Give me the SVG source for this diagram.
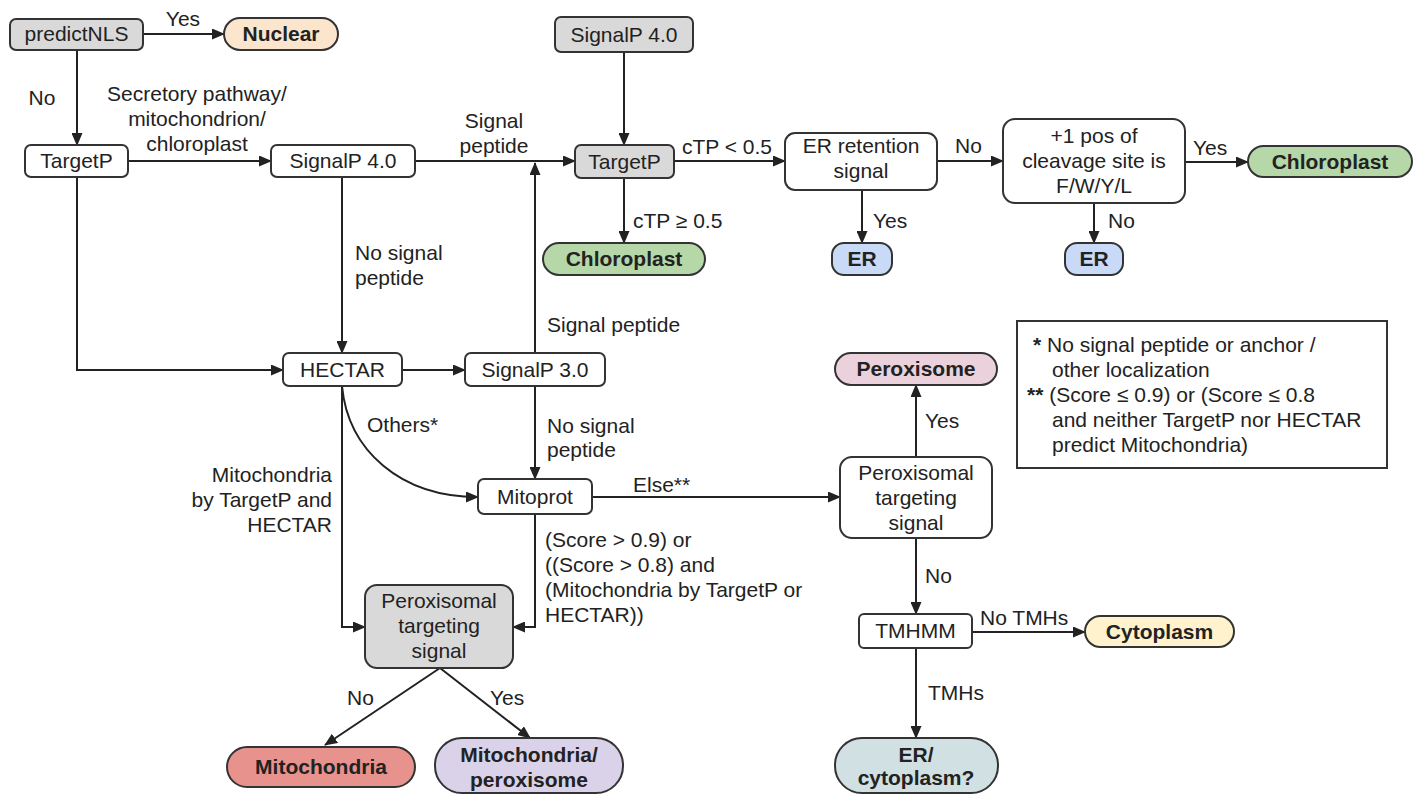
<svg xmlns="http://www.w3.org/2000/svg" width="1418" height="795" viewBox="0 0 1418 795">
<style>
text{font-family:"Liberation Sans",Arial,sans-serif;font-size:21px;fill:#222}
.c{text-anchor:middle}
.r{text-anchor:end}
.b{font-weight:bold}
.n{fill:#fff;stroke:#333;stroke-width:2}
.g{fill:#d9d9d9;stroke:#333;stroke-width:2}
.e{stroke:#222;stroke-width:2;fill:none;marker-end:url(#ah)}
.l{stroke:#222;stroke-width:2;fill:none}
</style>
<defs>
<marker id="ah" markerWidth="13" markerHeight="11" refX="12" refY="5.5" orient="auto" markerUnits="userSpaceOnUse"><path d="M0,0 L13,5.5 L0,11 z" fill="#222"/></marker>
</defs>
<rect width="1418" height="795" fill="#fff"/>
<g id="connectors">
<path class="e" d="M143,34 H224"/>
<path class="e" d="M77,50 V145"/>
<path class="e" d="M128,161 H271"/>
<path class="e" d="M415,161 H575"/>
<path class="e" d="M624,52 V145"/>
<path class="e" d="M535,353 V163"/>
<path class="e" d="M674,161 H785"/>
<path class="e" d="M624,178 V243"/>
<path class="e" d="M862,190 V243"/>
<path class="e" d="M937,161 H1003"/>
<path class="e" d="M1185,162 H1248"/>
<path class="e" d="M1094,203 V243"/>
<path class="e" d="M77,177 V370 H283"/>
<path class="e" d="M342,177 V353"/>
<path class="e" d="M402,370 H465"/>
<path class="e" d="M535,386 V479"/>
<path class="e" d="M342,386 C348,450 400,497 478,497"/>
<path class="e" d="M342,386 V627 H365"/>
<path class="e" d="M535,514 V627 H513"/>
<path class="e" d="M592,497 H840"/>
<path class="e" d="M916,457 V385"/>
<path class="e" d="M916,538 V614"/>
<path class="e" d="M972,632 H1085"/>
<path class="e" d="M916,648 V738"/>
<path class="e" d="M440,668 L325,745"/>
<path class="e" d="M440,668 L530,738"/>
</g>
<g id="labels">
<text x="183" y="26" class="c">Yes</text>
<text x="42" y="105" class="c">No</text>
<text x="197" y="101" class="c">Secretory pathway/</text>
<text x="197" y="126" class="c">mitochondrion/</text>
<text x="197" y="151" class="c">chloroplast</text>
<text x="494" y="128" class="c">Signal</text>
<text x="494" y="153" class="c">peptide</text>
<text x="727" y="154" class="c">cTP &lt; 0.5</text>
<text x="633" y="228">cTP ≥ 0.5</text>
<text x="873" y="228">Yes</text>
<text x="955" y="153">No</text>
<text x="1193" y="155">Yes</text>
<text x="1108" y="228">No</text>
<text x="355" y="260">No signal</text>
<text x="355" y="285">peptide</text>
<text x="547" y="332">Signal peptide</text>
<text x="547" y="433">No signal</text>
<text x="547" y="457">peptide</text>
<text x="367" y="432">Others*</text>
<text x="633" y="492">Else**</text>
<text x="332" y="482" class="r">Mitochondria</text>
<text x="332" y="507" class="r">by TargetP and</text>
<text x="332" y="532" class="r">HECTAR</text>
<text x="545" y="547">(Score &gt; 0.9) or</text>
<text x="545" y="572">((Score &gt; 0.8) and</text>
<text x="545" y="597">(Mitochondria by TargetP or</text>
<text x="545" y="622">HECTAR))</text>
<text x="347" y="705">No</text>
<text x="490" y="705">Yes</text>
<text x="925" y="428">Yes</text>
<text x="925" y="583">No</text>
<text x="980" y="625">No TMHs</text>
<text x="928" y="700">TMHs</text>
</g>
<g id="predictNLS"><rect class="g" x="10" y="19" width="133" height="31" rx="6"/><text x="76.5" y="41" class="c">predictNLS</text></g>
<g id="nuclear"><rect x="224" y="18" width="114" height="32" rx="16" fill="#fce5cd" stroke="#333" stroke-width="2"/><text x="281" y="41" class="c b">Nuclear</text></g>
<g id="targetp1"><rect class="n" x="25" y="145" width="103" height="32" rx="6"/><text x="76.5" y="168" class="c">TargetP</text></g>
<g id="signalp4a"><rect class="n" x="271" y="145" width="144" height="32" rx="6"/><text x="343" y="168" class="c">SignalP 4.0</text></g>
<g id="signalp4b"><rect class="g" x="555" y="17" width="138" height="35" rx="6"/><text x="624" y="42" class="c">SignalP 4.0</text></g>
<g id="targetp2"><rect class="g" x="575" y="145" width="99" height="33" rx="6"/><text x="624.5" y="169" class="c">TargetP</text></g>
<g id="chloroplast1"><rect x="543" y="243" width="162" height="32" rx="16" fill="#b6d7a8" stroke="#333" stroke-width="2"/><text x="624" y="266" class="c b">Chloroplast</text></g>
<g id="erretention"><rect class="n" x="785" y="133" width="152" height="57" rx="10"/><text x="861" y="153" class="c">ER retention</text><text x="861" y="178" class="c">signal</text></g>
<g id="er1"><rect x="832" y="243" width="60" height="32" rx="12" fill="#c9daf8" stroke="#333" stroke-width="2"/><text x="862" y="266" class="c b">ER</text></g>
<g id="cleavage"><rect class="n" x="1003" y="119" width="182" height="84" rx="12"/><text x="1094" y="143" class="c">+1 pos of</text><text x="1094" y="168" class="c">cleavage site is</text><text x="1094" y="193" class="c">F/W/Y/L</text></g>
<g id="chloroplast2"><rect x="1248" y="146" width="164" height="31" rx="15.5" fill="#b6d7a8" stroke="#333" stroke-width="2"/><text x="1330" y="169" class="c b">Chloroplast</text></g>
<g id="er2"><rect x="1065" y="243" width="58" height="32" rx="12" fill="#c9daf8" stroke="#333" stroke-width="2"/><text x="1094" y="266" class="c b">ER</text></g>
<g id="hectar"><rect class="n" x="283" y="353" width="119" height="33" rx="6"/><text x="342.5" y="377" class="c">HECTAR</text></g>
<g id="signalp3"><rect class="n" x="465" y="353" width="140" height="33" rx="6"/><text x="535" y="377" class="c">SignalP 3.0</text></g>
<g id="mitoprot"><rect class="n" x="478" y="479" width="114" height="35" rx="6"/><text x="535" y="504" class="c">Mitoprot</text></g>
<g id="perox_gray"><rect class="g" x="365" y="585" width="148" height="83" rx="12"/><text x="439" y="608" class="c">Peroxisomal</text><text x="439" y="633" class="c">targeting</text><text x="439" y="658" class="c">signal</text></g>
<g id="mitochondria"><rect x="227" y="747" width="188" height="40" rx="20" fill="#e8928e" stroke="#333" stroke-width="2"/><text x="321" y="774" class="c b">Mitochondria</text></g>
<g id="mitoperox"><rect x="435" y="738" width="188" height="55" rx="27" fill="#d9d2e9" stroke="#333" stroke-width="2"/><text x="529" y="762" class="c b">Mitochondria/</text><text x="529" y="787" class="c b">peroxisome</text></g>
<g id="perox_right"><rect class="n" x="840" y="457" width="152" height="81" rx="12"/><text x="916" y="480" class="c">Peroxisomal</text><text x="916" y="505" class="c">targeting</text><text x="916" y="530" class="c">signal</text></g>
<g id="peroxisome"><rect x="835" y="353" width="162" height="32" rx="16" fill="#ead1dc" stroke="#333" stroke-width="2"/><text x="916" y="376" class="c b">Peroxisome</text></g>
<g id="tmhmm"><rect class="n" x="859" y="614" width="113" height="34" rx="5"/><text x="915.5" y="638" class="c">TMHMM</text></g>
<g id="cytoplasm"><rect x="1085" y="616" width="149" height="31" rx="15.5" fill="#fff2cc" stroke="#333" stroke-width="2"/><text x="1159.5" y="639" class="c b">Cytoplasm</text></g>
<g id="ercyto"><rect x="835" y="738" width="163" height="55" rx="27" fill="#d0e0e3" stroke="#333" stroke-width="2"/><text x="916" y="762" class="c b">ER/</text><text x="916" y="785" class="c b">cytoplasm?</text></g>
<g id="legend"><rect x="1017" y="321" width="370" height="147" fill="#fff" stroke="#333" stroke-width="2"/>
<text x="1033" y="352"><tspan class="b">*</tspan> No signal peptide or anchor /</text>
<text x="1052" y="377">other localization</text>
<text x="1027" y="402"><tspan class="b">**</tspan> (Score ≤ 0.9) or (Score ≤ 0.8</text>
<text x="1052" y="427">and neither TargetP nor HECTAR</text>
<text x="1052" y="452">predict Mitochondria)</text>
</g>
</svg>
